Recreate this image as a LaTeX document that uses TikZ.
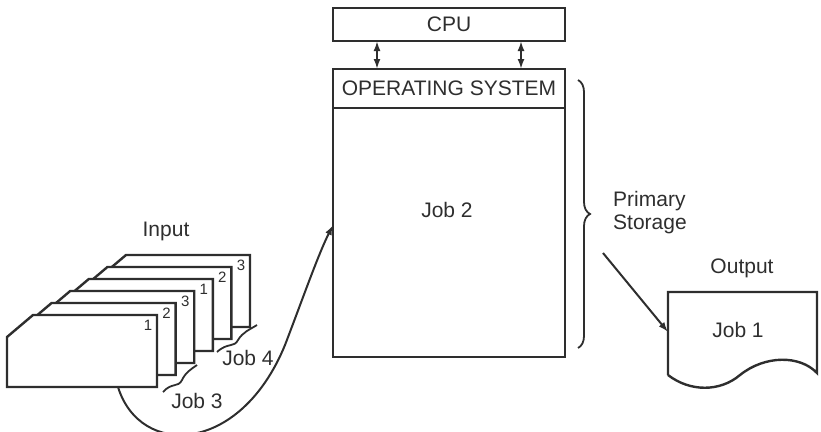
\documentclass[tikz,border=0pt]{standalone}
\usepackage{fontspec}
\setmainfont{Liberation Sans}
\usetikzlibrary{decorations.pathreplacing}
\usetikzlibrary{arrows.meta}
\usetikzlibrary{positioning}

\definecolor{ink}{HTML}{2E2E2E}

\begin{document}
\begin{tikzpicture}[
        x=1pt, y=-1pt,
        >={Latex[length=10pt, width=7pt]}, line width=2.4pt, draw=ink, text=ink,
        label/.style={font=\fontsize{21}{23}\selectfont, inner sep=0pt},
        num/.style={font=\fontsize{15}{16}\selectfont, inner sep=0pt},
        box/.style={draw, minimum width=232pt, inner sep=0pt, outer sep=0pt},
    ]
    \useasboundingbox (0,0) rectangle (821,431);

    % processor and primary storage
    \node[box, minimum height=33pt, label] (cpu) at (449,24.5) {CPU};
    \node[box, minimum height=39pt, label] (os) at (449,88.5) {OPERATING SYSTEM};
    \node[box, minimum height=249pt, anchor=north] (mem) at (os.south) {};
    \node[label] (job2) at (447,210) {Job 2};

    \draw[<->, line width=2pt] (cpu.south -| 377,0) -- (os.north -| 377,0);
    \draw[<->, line width=2pt] (cpu.south -| 521,0) -- (os.north -| 521,0);

    \draw[line width=1.8pt, decoration={brace, amplitude=12pt}, decorate]
        (578,80) -- (578,348);
    \node[label, align=left, anchor=west] (ps) at (612,213)
        {Primary\\[0pt]Storage};

    % input deck
    \node[label] (input) at (166,231) {Input};
    \foreach \k/\lab in {5/3, 4/2, 3/1, 2/3, 1/2, 0/1} {
        \begin{scope}[shift={(18.6*\k,-12*\k)}]
            \draw[fill=white] (7,337) -- (33,315) -- (157,315)
                -- (157,387) -- (7,387) -- cycle;
            \node[num] (card\k) at (148,325) {\lab};
        \end{scope}
    }
    \draw[line width=1.8pt] (163,392) .. controls (172,382) and (178,388) .. (182,380)
        .. controls (186,372) and (190,370) .. (197,365);
    \draw[line width=1.8pt] (217,352) .. controls (228,342) and (234,348) .. (238,340)
        .. controls (243,332) and (249,330) .. (257,325);
    \node[label] (job3) at (197,401) {Job 3};
    \node[label] (job4) at (248,358) {Job 4};

    \coordinate (deck) at (118,387);
    \coordinate (memin) at (mem.west |- 0,225);
    \draw[->, line width=2pt] (deck) .. controls (140,458) and (240,455) .. (285,345)
        .. controls (303,298) and (318,255) .. (memin);

    % output
    \node[label] (output) at (742,268) {Output};
    \draw (668,375) -- (668,292) -- (817,292) -- (817,373)
        .. controls (800,355) and (765,355) .. (740,375)
        .. controls (720,392) and (690,392) .. (668,375);
    \node[label] (job1) at (738,330) {Job 1};

    \coordinate (psout) at (603,253);
    \coordinate (docin) at (668,332);
    \draw[->, line width=2pt] (psout) -- (docin);
\end{tikzpicture}
\end{document}
